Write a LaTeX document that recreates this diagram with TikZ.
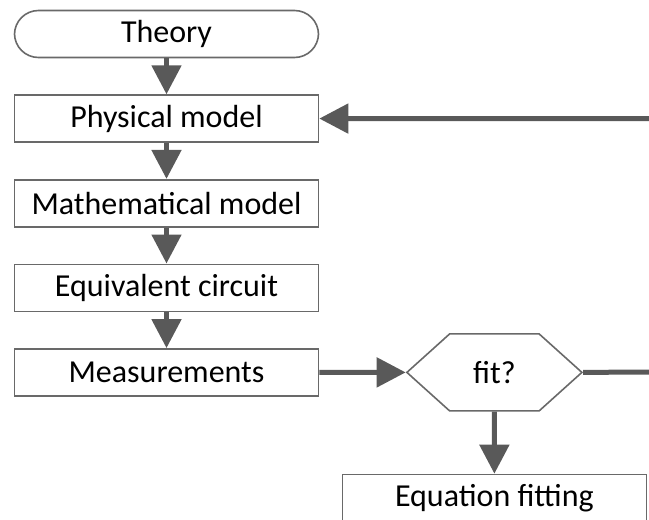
\documentclass[tikz,border=0pt]{standalone}
\usepackage{fontspec}
\setmainfont{Carlito}
\usetikzlibrary{arrows.meta, positioning, shapes.symbols}
\definecolor{linegray}{RGB}{89,89,89}
\definecolor{framegray}{RGB}{105,105,105}

\begin{document}
\begin{tikzpicture}[x=1pt, y=-1pt,
        node distance = 36pt and 86.4pt,
        box/.style = {rectangle, draw=framegray, line width=1.6pt, minimum width=304pt, minimum height=47pt, inner sep=0pt, font=\fontsize{32}{38}\selectfont},
        terminal/.style = {box, rounded corners=24pt},
        decision/.style = {signal, signal to=east and west, signal pointer angle=84, draw=framegray, line width=1.6pt, minimum width=175pt, minimum height=77pt, inner sep=0pt, font=\fontsize{32}{38}\selectfont},
        flow/.style = {-{Triangle[length=29pt, width=29pt]}, line width=5pt, draw=linegray}
    ]
    \useasboundingbox (0,0) rectangle (649,520);
    \node[terminal] (theory) at (166.5,34) {Theory};
    \node[box, below=of theory] (phys) {Physical model};
    \node[box, below=of phys] (math) {Mathematical model};
    \node[box, below=of math] (equiv) {Equivalent circuit};
    \node[box, below=of equiv] (meas) {Measurements};
    \node[decision, right=of meas] (fit) {fit?};
    \node[box, below=62pt of fit] (eqfit) {Equation fitting};
    \coordinate (physin) at (649,118.5);
    \coordinate (fitout) at (649,372);

    \draw[flow] (theory) -- (phys);
    \draw[flow] (phys) -- (math);
    \draw[flow] (math) -- (equiv);
    \draw[flow] (equiv) -- (meas);
    \draw[flow] (meas) -- (fit);
    \draw[flow] (fit) -- (eqfit);
    \draw[flow, -] (fit.east) -- (fitout);
    \draw[flow] (physin) -- (phys);
\end{tikzpicture}
\end{document}
